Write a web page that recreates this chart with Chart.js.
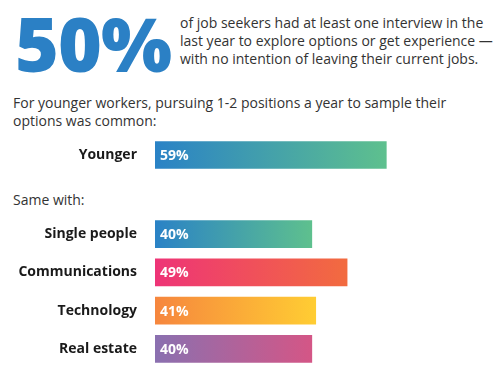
<!DOCTYPE html>
<html><head><meta charset="utf-8">
<script src="https://cdn.jsdelivr.net/npm/chart.js@4.4.1/dist/chart.umd.min.js"></script>
<style>
html,body{margin:0;padding:0;background:#fff;width:500px;height:388px;overflow:hidden;font-family:"Open Sans",sans-serif;}
.abs{position:absolute;}
#big{left:15px;top:-7px;font-size:75px;font-weight:800;color:#2b80c5;letter-spacing:-1px;line-height:100px;}
#desc{left:180px;top:14px;font-size:14px;line-height:18px;color:#333;}
#intro{left:13px;top:94px;font-size:14px;line-height:18px;color:#333;}
#same{left:13px;top:191px;font-size:14px;line-height:18px;color:#333;}
</style></head><body>
<div class="abs" id="big">50%</div>
<div class="abs" id="desc">of job seekers had at least one interview in the<br>last year to explore options or get experience —<br>with no intention of leaving their current jobs.</div>
<div class="abs" id="intro">For younger workers, pursuing 1-2 positions a year to sample their<br>options was common:</div>
<div class="abs" id="same">Same with:</div>
<div class="abs" style="left:0;top:136px;width:500px;height:38px;"><canvas id="c1"></canvas></div>
<div class="abs" style="left:0;top:215px;width:500px;height:153px;"><canvas id="c2"></canvas></div>
<script>
const topCategories = ["Younger"];
const topValues = [59];
const topGradients = [["#2a82c6", "#5ec08e"]];

const groupCategories = ["Single people", "Communications", "Technology", "Real estate"];
const groupValues = [40, 49, 41, 40];
const groupGradients = [
  ["#2a82c6", "#5ec08e"],
  ["#ee3477", "#f26b3f"],
  ["#f6863e", "#ffcd33"],
  ["#8a70b0", "#d45686"]
];

const valueLabelPlugin = {
  id: "valueLabels",
  afterDatasetsDraw(chart) {
    const ctx = chart.ctx;
    const meta = chart.getDatasetMeta(0);
    ctx.save();
    ctx.font = "bold 14px 'Open Sans', sans-serif";
    ctx.fillStyle = "#ffffff";
    ctx.textAlign = "left";
    ctx.textBaseline = "middle";
    meta.data.forEach((bar, i) => {
      const v = chart.data.datasets[0].data[i];
      ctx.fillText(v + "%", bar.base + 5, bar.y + 1);
    });
    ctx.restore();
  }
};

function makeChart(id, labels, values, grads) {
  return new Chart(document.getElementById(id), {
    type: "bar",
    data: {
      labels: labels,
      datasets: [{
        data: values,
        barThickness: 27,
        borderWidth: 0,
        backgroundColor(context) {
          const chart = context.chart;
          const g = grads[context.dataIndex];
          if (!chart.chartArea) return g[0];
          const xs = chart.scales.x;
          const x0 = xs.getPixelForValue(0);
          const x1 = xs.getPixelForValue(values[context.dataIndex]);
          const grad = chart.ctx.createLinearGradient(x0, 0, x1, 0);
          grad.addColorStop(0, g[0]);
          grad.addColorStop(1, g[1]);
          return grad;
        }
      }]
    },
    options: {
      indexAxis: "y",
      responsive: true,
      maintainAspectRatio: false,
      animation: false,
      layout: { padding: 0 },
      plugins: { legend: { display: false }, tooltip: { enabled: false } },
      scales: {
        x: { display: false, min: 0, max: 88 },
        y: {
          grid: { display: false, drawTicks: false },
          border: { display: false },
          ticks: {
            color: "#1a1a1a",
            font: { family: "'Open Sans', sans-serif", size: 14, weight: "bold" },
            padding: 18
          },
          afterFit(scale) {
            scale.width = 155;
            scale.paddingTop = 0;
            scale.paddingBottom = 0;
          }
        }
      }
    },
    plugins: [valueLabelPlugin]
  });
}

makeChart("c1", topCategories, topValues, topGradients);
makeChart("c2", groupCategories, groupValues, groupGradients);
</script>
</body></html>
